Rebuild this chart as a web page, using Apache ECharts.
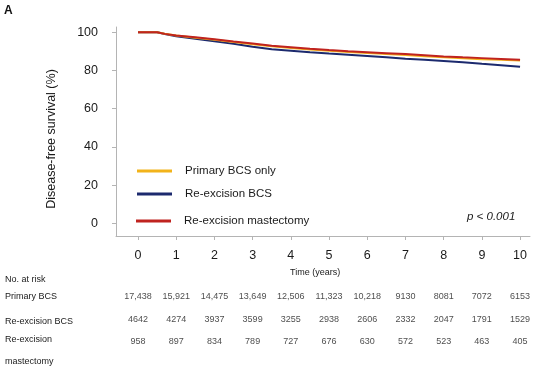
<!DOCTYPE html>
<html>
<head>
<meta charset="utf-8">
<script src="https://cdn.jsdelivr.net/npm/echarts@6/dist/echarts.min.js"></script>
<style>html,body{margin:0;padding:0;background:#fff}#c{width:550px;height:370px}</style>
</head>
<body>
<div id="c"></div>
<script>
// ---- data ----
var years = [0, 0.5, 0.7, 1, 1.5, 2, 2.5, 3, 3.5, 4, 4.5, 5, 5.5, 6, 6.5, 7, 7.5, 8, 8.5, 9, 9.5, 10];
var primaryBCS = [100, 100, 99.3, 98.3, 97.2, 96.1, 94.9, 93.8, 92.7, 91.8, 91.0, 90.3, 89.7, 89.2, 88.7, 88.1, 87.5, 86.9, 86.4, 85.9, 85.6, 85.3];
var reexcisionBCS = [100, 100, 99.1, 97.9, 96.6, 95.3, 94.0, 92.4, 91.2, 90.4, 89.6, 88.9, 88.3, 87.6, 86.9, 86.2, 85.6, 85.0, 84.3, 83.5, 82.8, 82.0];
var reexcisionMast = [100, 100, 99.2, 98.3, 97.4, 96.4, 95.2, 94.1, 93.0, 92.2, 91.4, 90.7, 90.1, 89.6, 89.1, 88.6, 88.0, 87.4, 86.9, 86.5, 86.1, 85.7];
var xTicks = [0, 1, 2, 3, 4, 5, 6, 7, 8, 9, 10];
var yTicks = [0, 20, 40, 60, 80, 100];
var seriesNames = ['Primary BCS only', 'Re-excision BCS', 'Re-excision mastectomy'];
var riskRows = ['Primary BCS', 'Re-excision BCS', 'Re-excision mastectomy'];
var riskPrimary = [17438, 15921, 14475, 13649, 12506, 11323, 10218, 9130, 8081, 7072, 6153];
var riskReBCS = [4642, 4274, 3937, 3599, 3255, 2938, 2606, 2332, 2047, 1791, 1529];
var riskReMast = [958, 897, 834, 789, 727, 676, 630, 572, 523, 463, 405];

// ---- build ----
var FONT = '"Liberation Sans", Arial, sans-serif';
var TXT = '#1a1a1a';
var AX = '#b4b4b4';
function pairs(ys) { return years.map(function (t, i) { return [t, ys[i]]; }); }
function fmt(n) { return n >= 10000 ? n.toLocaleString('en-US') : String(n); }
var riskData = [];
[riskPrimary, riskReBCS, riskReMast].forEach(function (row, r) {
  row.forEach(function (v, i) { riskData.push([xTicks[i], riskRows[r], v]); });
});

var chart = echarts.init(document.getElementById('c'), null, { renderer: 'canvas' });
var legendBase = {
  orient: 'horizontal', icon: 'rect', itemWidth: 35, itemHeight: 3,
  textStyle: { fontFamily: FONT, fontSize: 11.5, color: TXT, padding: [0, 0, 0, 8] },
  selectedMode: false
};
chart.setOption({
  animation: false,
  backgroundColor: '#fff',
  textStyle: { fontFamily: FONT },
  grid: [
    { left: 116, right: 20, top: 27, bottom: 134 },
    { left: 116, right: 20, top: 285.75, height: 67.5 }
  ],
  xAxis: [
    {
      gridIndex: 0, type: 'value', min: -0.576, max: 10.26,
      axisLine: { show: true, onZero: false, lineStyle: { color: AX, width: 1 } },
      axisTick: { show: true, length: 4, customValues: xTicks, lineStyle: { color: AX } },
      axisLabel: { customValues: xTicks, fontSize: 12.5, color: TXT, margin: 13, fontFamily: FONT },
      splitLine: { show: false }
    },
    {
      gridIndex: 1, type: 'value', min: -0.576, max: 10.26, show: false
    }
  ],
  yAxis: [
    {
      gridIndex: 0, type: 'value', min: -6.65, max: 102.8,
      axisLine: { show: true, onZero: false, lineStyle: { color: AX, width: 1 } },
      axisTick: { show: true, length: 4, customValues: yTicks, lineStyle: { color: AX } },
      axisLabel: { customValues: yTicks, fontSize: 12.5, color: TXT, margin: 18, fontFamily: FONT },
      splitLine: { show: false }
    },
    {
      gridIndex: 1, type: 'category', data: riskRows, inverse: true, show: false
    }
  ],
  legend: [
    Object.assign({}, legendBase, { data: [seriesNames[0]], left: 132, top: 160 }),
    Object.assign({}, legendBase, { data: [seriesNames[1]], left: 132, top: 183 }),
    Object.assign({}, legendBase, { data: [seriesNames[2]], left: 131, top: 210 })
  ],
  series: [
    { name: seriesNames[1], type: 'line', data: pairs(reexcisionBCS), showSymbol: false, symbol: 'none',
      color: '#1c2a6e', lineStyle: { width: 2, color: '#1c2a6e' }, z: 2 },
    { name: seriesNames[0], type: 'line', data: pairs(primaryBCS), showSymbol: false, symbol: 'none',
      color: '#f2b31a', lineStyle: { width: 2, color: '#f2b31a' }, z: 3 },
    { name: seriesNames[2], type: 'line', data: pairs(reexcisionMast), showSymbol: false, symbol: 'none',
      color: '#c0231f', lineStyle: { width: 2, color: '#c0231f' }, z: 4 },
    { name: 'risk', type: 'scatter', xAxisIndex: 1, yAxisIndex: 1, data: riskData, symbolSize: 0,
      label: { show: true, position: 'inside', fontSize: 9, color: TXT, fontFamily: FONT,
        formatter: function (p) { return fmt(p.value[2]); } } }
  ],
  graphic: [
    { type: 'text', left: 4, top: 5, style: { text: 'A', font: 'bold 12px ' + FONT, fill: '#111' } },
    { type: 'text', x: 52, y: 139, rotation: Math.PI / 2,
      style: { text: 'Disease-free survival (%)', font: '12.5px ' + FONT, fill: TXT, align: 'center', verticalAlign: 'middle' } },
    { type: 'text', left: 467, top: 211, style: { text: 'p < 0.001', font: 'italic 11.5px ' + FONT, fill: TXT } },
    { type: 'text', left: 290, top: 268, style: { text: 'Time (years)', font: '9px ' + FONT, fill: TXT } },
    { type: 'text', left: 5, top: 275, style: { text: 'No. at risk', font: '9px ' + FONT, fill: TXT } },
    { type: 'text', left: 5, top: 292, style: { text: 'Primary BCS', font: '9px ' + FONT, fill: TXT } },
    { type: 'text', left: 5, top: 317, style: { text: 'Re-excision BCS', font: '9px ' + FONT, fill: TXT } },
    { type: 'text', left: 5, top: 335, style: { text: 'Re-excision', font: '9px ' + FONT, fill: TXT } },
    { type: 'text', left: 5, top: 357, style: { text: 'mastectomy', font: '9px ' + FONT, fill: TXT } }
  ]
});
</script>
</body>
</html>
